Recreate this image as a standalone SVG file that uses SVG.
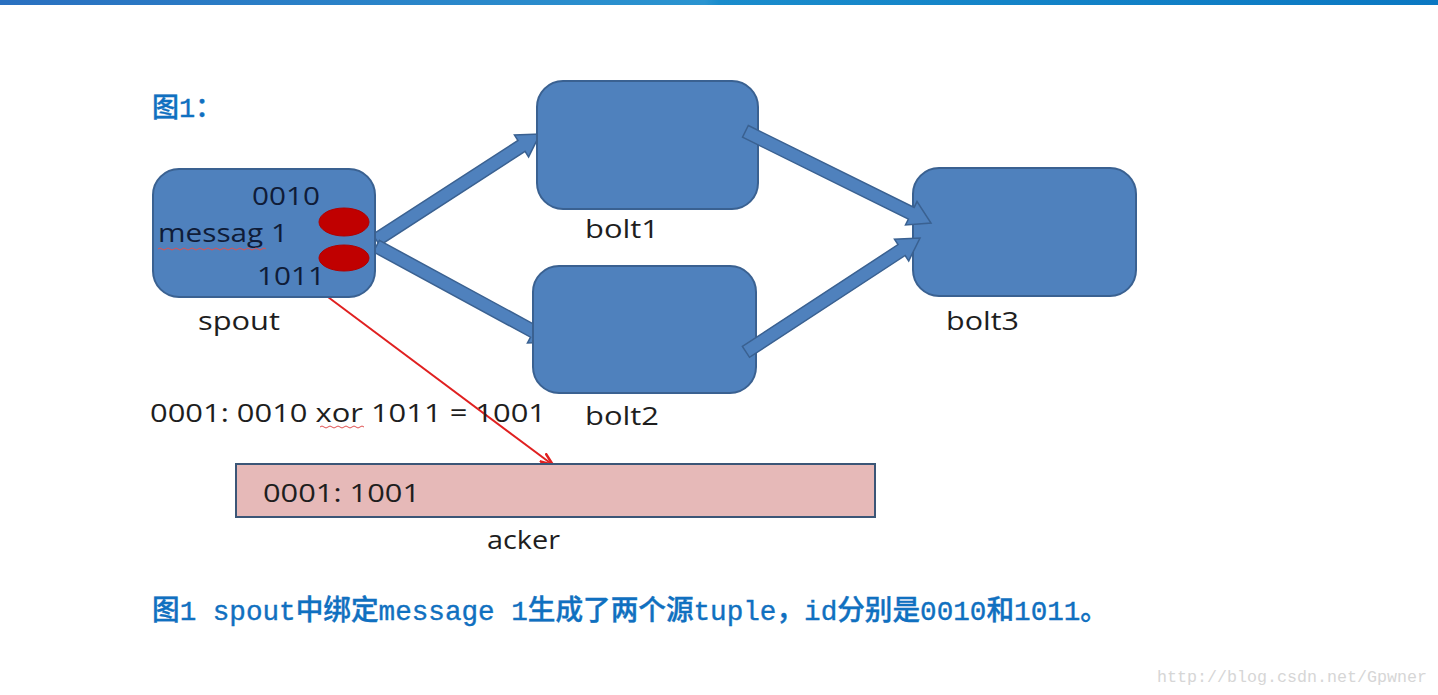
<svg xmlns="http://www.w3.org/2000/svg" width="1438" height="695" viewBox="0 0 1438 695">
<defs>
<linearGradient id="topbar" x1="0" y1="0" x2="1" y2="0">
<stop offset="0" stop-color="#2a70c0"/>
<stop offset="0.49" stop-color="#2a94d0"/>
<stop offset="0.5" stop-color="#1a8ccc"/>
<stop offset="1" stop-color="#0b78c2"/>
</linearGradient>
<marker id="redhead" viewBox="0 0 14 12" refX="13" refY="6" markerWidth="14" markerHeight="12" markerUnits="userSpaceOnUse" orient="auto">
<path d="M0,1 L13,6 L0,11" fill="none" stroke="#e02020" stroke-width="2.5"/>
</marker>
</defs>
<style>
.box{fill:#4f81bd;stroke:#3a6191;stroke-width:2}
.blk{fill:#4f81bd;stroke:#3a6191;stroke-width:1.5;stroke-linejoin:miter}
.lbl{font-family:"Open Sans","Liberation Sans",sans-serif;font-size:25px;fill:#1e1e1e}
.in{fill:#0f1c38}
.cap{font-family:"Liberation Mono","Noto Sans CJK SC",monospace;fill:#1070c0;font-weight:500;stroke:#1070c0;stroke-width:0.4}
.squig{fill:none;stroke:#e05050;stroke-width:1}
</style>
<rect x="0" y="0" width="1438" height="695" fill="#ffffff"/>
<rect x="0" y="0" width="1438" height="5" fill="url(#topbar)"/>

<text class="cap" x="152" y="117" font-size="27">图1：</text>

<g id="connectors">
<polygon class="blk" points="-195,-6.5 -22,-6.5 -22,-13 0,0 -22,13 -22,6.5 -195,6.5" transform="translate(540,134) rotate(-32.9)"/>
<polygon class="blk" points="-201,-6.5 -22,-6.5 -22,-13 0,0 -22,13 -22,6.5 -201,6.5" transform="translate(553,342) rotate(28.5)"/>
<line x1="328" y1="297" x2="553" y2="465" stroke="#e02020" stroke-width="2" marker-end="url(#redhead)"/>
</g>

<g id="spout">
<rect class="box" x="153" y="169" width="222" height="128" rx="26"/>
<ellipse cx="344" cy="222" rx="25" ry="14" fill="#c00000" stroke="#b00000"/>
<ellipse cx="344" cy="258" rx="25" ry="13" fill="#c00000" stroke="#b00000"/>
<text class="lbl in" x="252" y="205" textLength="68" lengthAdjust="spacingAndGlyphs">0010</text>
<text class="lbl in" x="158" y="242" textLength="130" lengthAdjust="spacingAndGlyphs">messag 1</text>
<path class="squig" d="M158,249 q2,-2 4,0 t4,0 t4,0 t4,0 t4,0 t4,0 t4,0 t4,0 t4,0 t4,0 t4,0 t4,0 t4,0 t4,0 t4,0 t4,0 t4,0 t4,0 t4,0 t4,0 t4,0 t4,0 t4,0 t4,0 t4,0 t4,0 t4,0"/>
<text class="lbl in" x="257" y="285" textLength="68" lengthAdjust="spacingAndGlyphs">1011</text>
<text class="lbl" x="198" y="330" textLength="82" lengthAdjust="spacingAndGlyphs">spout</text>
</g>

<g id="bolt1">
<rect class="box" x="537" y="81" width="221" height="128" rx="26"/>
<text class="lbl" x="585" y="238" textLength="74" lengthAdjust="spacingAndGlyphs">bolt1</text>
</g>

<g id="bolt2">
<rect class="box" x="533" y="266" width="223" height="127" rx="26"/>
<text class="lbl" x="585" y="425" textLength="74" lengthAdjust="spacingAndGlyphs">bolt2</text>
</g>

<g id="bolt3">
<rect class="box" x="913" y="168" width="223" height="128" rx="26"/>
<text class="lbl" x="946" y="330" textLength="73" lengthAdjust="spacingAndGlyphs">bolt3</text>
</g>

<g id="connectors2">
<polygon class="blk" points="-207,-6.5 -22,-6.5 -22,-13 0,0 -22,13 -22,6.5 -207,6.5" transform="translate(931,223) rotate(26.3)"/>
<polygon class="blk" points="-208,-6.5 -22,-6.5 -22,-13 0,0 -22,13 -22,6.5 -208,6.5" transform="translate(920,238) rotate(-33.2)"/>
</g>

<g id="xorlabel">
<text class="lbl" x="150" y="422" textLength="396" lengthAdjust="spacingAndGlyphs">0001: 0010 xor 1011 = 1001</text>
<path class="squig" d="M320,427 q2,-2 4,0 t4,0 t4,0 t4,0 t4,0 t4,0 t4,0 t4,0 t4,0 t4,0 t4,0"/>
</g>

<g id="acker">
<rect x="236" y="464" width="639" height="53" fill="#e6b9b8" stroke="#3b5677" stroke-width="2"/>
<text class="lbl" x="263" y="502" textLength="157" lengthAdjust="spacingAndGlyphs">0001: 1001</text>
<text class="lbl" x="487" y="549" textLength="73" lengthAdjust="spacingAndGlyphs">acker</text>
</g>

<text class="cap" x="152" y="620" font-size="28" textLength="956" lengthAdjust="spacingAndGlyphs">图1 spout中绑定message 1生成了两个源tuple，id分别是0010和1011。</text>

<text x="1157" y="682" font-family="Liberation Mono, monospace" font-size="17" fill="#d6d6d6" textLength="270" lengthAdjust="spacingAndGlyphs">http://blog.csdn.net/Gpwner</text>
</svg>
